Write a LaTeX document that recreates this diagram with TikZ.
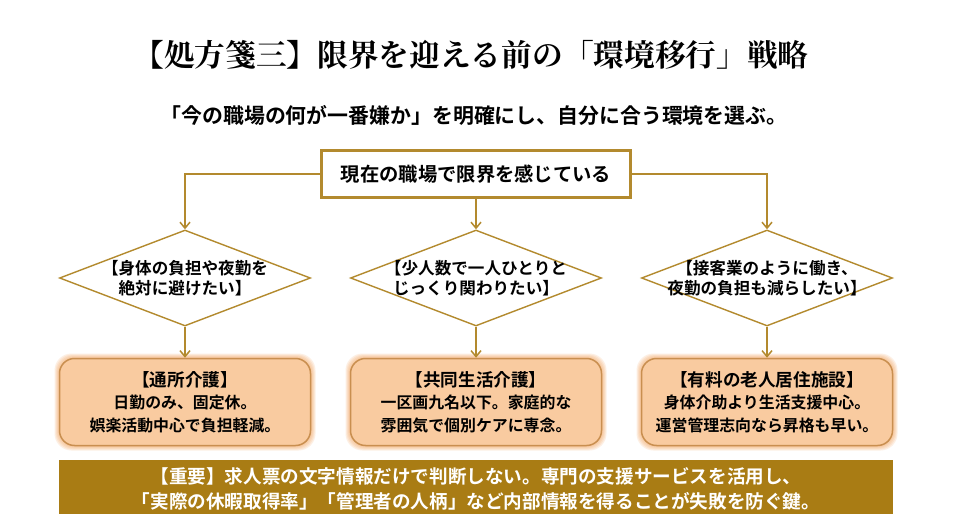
\documentclass[tikz,border=0pt]{standalone}
\usepackage{fontspec}
\setmainfont{Noto Sans CJK JP}[BoldFont={Noto Sans CJK JP Bold}]
\newfontfamily\titlefont{Noto Serif CJK JP}[BoldFont={Noto Serif CJK JP Bold}]
\usetikzlibrary{shapes.geometric,arrows.meta}
\definecolor{gold}{HTML}{B38A2E}
\definecolor{band}{HTML}{A97C14}
\definecolor{peach}{HTML}{F9CBA0}
\definecolor{glow}{HTML}{F2994A}
\definecolor{edge}{HTML}{C98F50}
\newcommand{\headline}[1]{{\fontsize{17.6}{22.5}\selectfont #1}}
\tikzset{
 px/.style={x=1pt,y=-1pt},
 conn/.style={draw=gold,line width=1.5pt,-{Straight Barb[length=6pt,width=10pt]}},
 choice/.style={diamond,draw=gold,line width=1.4pt,fill=white,minimum width=251pt,minimum height=96pt,inner sep=-30pt,align=center,font=\bfseries\fontsize{16.6}{20}\selectfont,aspect=2.6},
 result/.style={rounded corners=15pt,draw=edge,line width=1.5pt,fill=peach,minimum width=251pt,minimum height=87pt,align=center,font=\bfseries\fontsize{15.9}{22.5}\selectfont,inner sep=0pt},
 glowb/.style={rounded corners=17pt,fill=glow,fill opacity=0.15,draw=none}
}
\begin{document}
\begin{tikzpicture}[px]
\useasboundingbox (0,0) rectangle (954,514);
\fill[white] (0,0) rectangle (954,514);
\node[font=\titlefont\bfseries\fontsize{30.7}{34}\selectfont] (title) at (471,55) {【処方箋三】限界を迎える前の「環境移行」戦略};
\node[font=\bfseries\fontsize{20.9}{24}\selectfont] (sub) at (474,115) {「今の職場の何が一番嫌か」を明確にし、自分に合う環境を選ぶ。};
\node[draw=gold,line width=2.5pt,fill=white,minimum width=309pt,minimum height=47pt,inner sep=0pt,font=\bfseries\fontsize{19.3}{22}\selectfont] (top) at (476,174) {現在の職場で限界を感じている};
\node[choice] (d1) at (185,278) {【身体の負担や夜勤を\\絶対に避けたい】};
\node[choice] (d2) at (476,278) {【少人数で一人ひとりと\\じっくり関わりたい】};
\node[choice] (d3) at (767,278) {【接客業のように働き、\\夜勤の負担も減らしたい】};
\foreach \x in {185,476,767}{
 \foreach \g in {2,4,6,8,10}{
  \node[glowb,minimum width={251pt+\g pt},minimum height={87pt+\g pt}] at (\x,402) {};
 }
}
\node[result] (r1) at (185,402) {\headline{【通所介護】}\\日勤のみ、固定休。\\娯楽活動中心で負担軽減。};
\node[result] (r2) at (476,402) {\headline{【共同生活介護】}\\一区画九名以下。家庭的な\\雰囲気で個別ケアに専念。};
\node[result] (r3) at (767,402) {\headline{【有料の老人居住施設】}\\身体介助より生活支援中心。\\運営管理志向なら昇格も早い。};
\draw[conn] (top.west) -| (d1.north);
\draw[conn] (top.south) -- (d2.north);
\draw[conn] (top.east) -| (d3.north);
\draw[conn] (d1.south) -- (r1.north);
\draw[conn] (d2.south) -- (r2.north);
\draw[conn] (d3.south) -- (r3.north);
\node[fill=band,text=white,minimum width=834pt,minimum height=58pt,inner sep=0pt,align=center,font=\bfseries\fontsize{18.6}{25}\selectfont] (note) at (476,489) {【重要】求人票の文字情報だけで判断しない。専門の支援サービスを活用し、\\「実際の休暇取得率」「管理者の人柄」など内部情報を得ることが失敗を防ぐ鍵。};
\end{tikzpicture}
\end{document}
